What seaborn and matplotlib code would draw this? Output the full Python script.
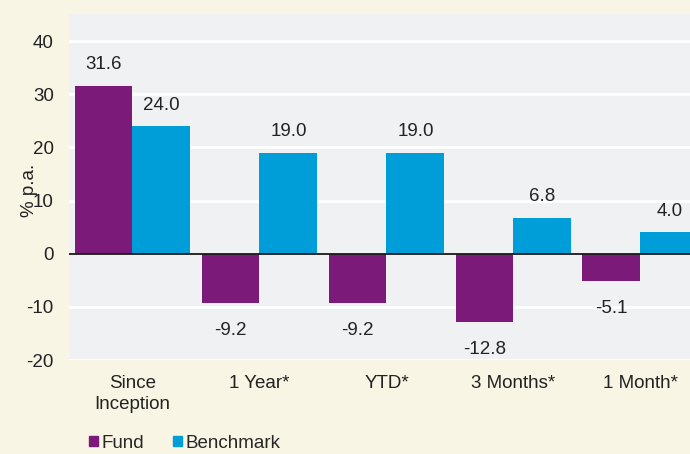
import numpy as np
import pandas as pd
import matplotlib
matplotlib.use("Agg")
import matplotlib.pyplot as plt
import seaborn as sns
from matplotlib.patches import Patch

# ── data ─────────────────────────────────────────
periods   = ["Since\nInception", "1 Year*", "YTD*", "3 Months*", "1 Month*"]
fund      = [31.6, -9.2, -9.2, -12.8, -5.1]
benchmark = [24.0, 19.0, 19.0, 6.8, 4.0]
series    = ["Fund", "Benchmark"]
y_ticks   = [-20, -10, 0, 10, 20, 30, 40]

PURPLE = "#7B1A78"
CYAN   = "#009ED9"
CREAM  = "#F8F5E4"
PANEL  = "#F0F1F3"
INK    = "#222222"
FS     = 13.5

df = pd.DataFrame({
    "period": periods * 2,
    "series": [series[0]] * len(periods) + [series[1]] * len(periods),
    "value":  fund + benchmark,
})

sns.set_theme(style="white")
plt.rcParams["font.family"] = ["Liberation Sans", "DejaVu Sans"]

fig = plt.figure(figsize=(6.9, 4.54), dpi=100, facecolor=CREAM)
ax = fig.add_axes([0.1, 0.207, 0.9, 0.762])
ax.set_facecolor(PANEL)

sns.barplot(data=df, x="period", y="value", hue="series", order=periods,
            hue_order=series, palette=[PURPLE, CYAN], width=0.913,
            saturation=1, linewidth=0, legend=False, ax=ax, zorder=3)

# gridlines (white) + zero line
for t in y_ticks:
    if t != 0:
        ax.axhline(t, color="white", lw=2, zorder=1)
ax.axhline(0, color="#1a1a1a", lw=1.3, zorder=4)

# value labels
for cont in ax.containers:
    for bar in cont:
        h = bar.get_height()
        xc = bar.get_x() + bar.get_width() / 2
        if h >= 0:
            ax.annotate(f"{h:.1f}", (xc, h), xytext=(0, 9), textcoords="offset points",
                        ha="center", va="bottom", fontsize=FS, color=INK)
        else:
            ax.annotate(f"{h:.1f}", (xc, h), xytext=(0, -14), textcoords="offset points",
                        ha="center", va="top", fontsize=FS, color=INK)

ax.set_ylim(-20, 45.1)
ax.set_xlim(-0.5, 4.39)
ax.set_yticks(y_ticks)
ax.set_yticklabels([str(t) for t in y_ticks], fontsize=FS, color=INK)
ax.tick_params(axis="x", labelsize=FS, colors=INK, length=0, pad=11)
ax.tick_params(axis="y", length=0, pad=11)
for lbl in ax.get_xticklabels():
    lbl.set_linespacing(1.3)
ax.set_xlabel("")
ax.set_ylabel("% p.a.", fontsize=FS, color=INK)
ax.yaxis.set_label_coords(-0.05, 0.49)
for s in ax.spines.values():
    s.set_visible(False)

handles = [Patch(color=PURPLE, label=series[0]), Patch(color=CYAN, label=series[1])]
fig.legend(handles=handles, loc="center left", bbox_to_anchor=(0.104, 0.024),
           ncol=2, frameon=False, fontsize=FS, handlelength=0.48, handleheight=0.48,
           handletextpad=0.2, columnspacing=1.55)

fig.savefig("out.png", dpi=100, facecolor=CREAM)
